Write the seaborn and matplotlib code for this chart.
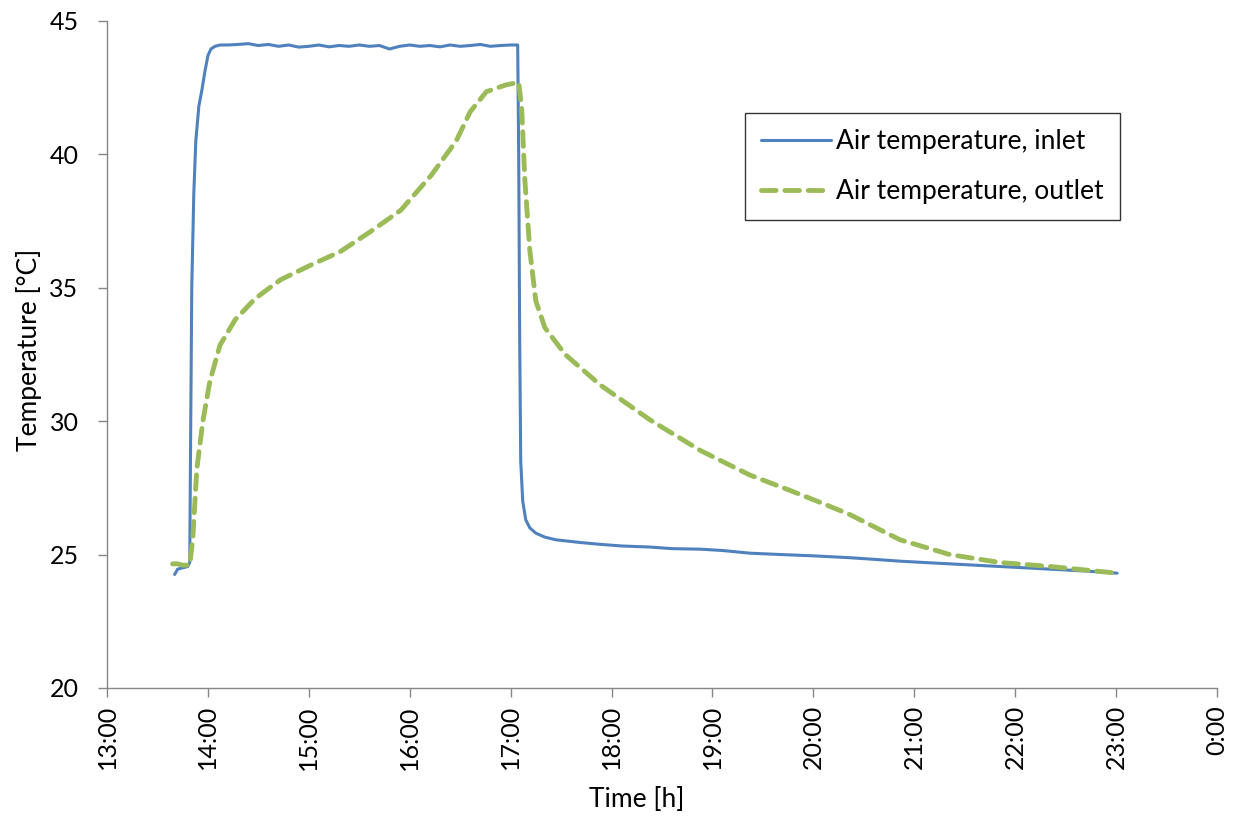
import matplotlib
matplotlib.use("Agg")
import matplotlib.pyplot as plt
import seaborn as sns

# time in hours (13.5 = 13:30), temperature in °C
inlet_time = [13.67, 13.70, 13.75, 13.80, 13.82, 13.83, 13.84, 13.86, 13.88, 13.91, 13.94,
              13.97, 14.00, 14.03, 14.07, 14.12, 14.20, 14.30, 14.40, 14.50, 14.60,
              14.70, 14.80, 14.90, 15.00, 15.10, 15.20, 15.30, 15.40, 15.50, 15.60,
              15.70, 15.80, 15.90, 16.00, 16.10, 16.20, 16.30, 16.40, 16.50, 16.60,
              16.70, 16.80, 16.90, 17.00, 17.07, 17.08, 17.09, 17.10, 17.12, 17.15,
              17.19, 17.25, 17.34, 17.45, 17.69, 17.89, 18.10, 18.38, 18.60, 18.88,
              19.10, 19.37, 19.67, 20.00, 20.36, 20.60, 20.86, 21.10, 21.35, 21.60,
              21.85, 22.10, 22.35, 22.70, 23.01]
inlet_temp = [24.25, 24.45, 24.5, 24.55, 24.7, 30.0, 35.0, 38.5, 40.5, 41.8, 42.4,
              43.1, 43.7, 43.95, 44.05, 44.1, 44.1, 44.12, 44.15, 44.08, 44.12,
              44.05, 44.1, 44.02, 44.05, 44.1, 44.03, 44.08, 44.05, 44.1, 44.05,
              44.08, 43.95, 44.05, 44.1, 44.05, 44.08, 44.03, 44.1, 44.05, 44.08,
              44.12, 44.05, 44.08, 44.1, 44.1, 40.0, 33.0, 28.5, 27.0, 26.3,
              26.0, 25.8, 25.65, 25.55, 25.45, 25.38, 25.32, 25.28, 25.22, 25.2,
              25.15, 25.05, 25.0, 24.95, 24.88, 24.82, 24.75, 24.7, 24.65, 24.6,
              24.55, 24.5, 24.45, 24.38, 24.3]

outlet_time = [13.65, 13.70, 13.75, 13.82, 13.85, 13.89, 13.95, 14.02, 14.12, 14.27,
               14.47, 14.72, 15.02, 15.31, 15.61, 15.91, 16.21, 16.46, 16.60, 16.76,
               16.95, 17.08, 17.11, 17.14, 17.19, 17.25, 17.34, 17.54, 17.89, 18.38,
               18.88, 19.37, 19.77, 20.07, 20.36, 20.86, 21.35, 21.85, 22.35, 23.01]
outlet_temp = [24.65, 24.65, 24.6, 24.6, 25.6, 28.2, 30.0, 31.5, 32.85, 33.8,
               34.6, 35.3, 35.85, 36.35, 37.1, 37.9, 39.2, 40.5, 41.6, 42.35,
               42.6, 42.7, 41.7, 39.1, 36.4, 34.5, 33.5, 32.5, 31.35, 30.05,
               28.9, 27.98, 27.4, 26.95, 26.5, 25.55, 25.0, 24.7, 24.55, 24.3]

hour_ticks = list(range(13, 25))
hour_labels = [f"{h % 24}:00" for h in hour_ticks]
temp_ticks = [20, 25, 30, 35, 40, 45]

sns.set_theme(style="white", rc={"text.color": "black", "axes.labelcolor": "black",
                                 "xtick.color": "black", "ytick.color": "black"})
plt.rcParams["font.family"] = ["Lato", "DejaVu Sans"]

fig = plt.figure(figsize=(12.37, 8.16), dpi=100)
ax = fig.add_axes([0.0865, 0.157, 0.8973, 0.8173])

sns.lineplot(x=inlet_time, y=inlet_temp, ax=ax, color="#4F81BD", linewidth=2.2,
             label="Air temperature, inlet", sort=False)
sns.lineplot(x=outlet_time, y=outlet_temp, ax=ax, color="#9BBB59", linewidth=3.5,
             linestyle=(0, (3, 1.8)), dash_capstyle="round",
             label="Air temperature, outlet", sort=False)

ax.set_xlim(13, 24)
ax.set_ylim(20, 45)
ax.set_xticks(hour_ticks)
ax.set_xticklabels(hour_labels, rotation=90, fontsize=18)
ax.set_yticks(temp_ticks)
ax.set_yticklabels([str(t) for t in temp_ticks], fontsize=18)
ax.set_xlabel("Time [h]", fontsize=19)
ax.set_ylabel("Temperature [°C]", fontsize=19)
ax.xaxis.set_label_coords(0.477, -0.148)
ax.yaxis.set_label_coords(-0.059, 0.507)

for side in ["top", "right"]:
    ax.spines[side].set_visible(False)
for side in ["left", "bottom"]:
    ax.spines[side].set_color("#868686")
    ax.spines[side].set_linewidth(1.0)
ax.tick_params(axis="both", direction="out", length=6.5, width=1, color="#868686",
               labelcolor="black", left=True, bottom=True)
ax.tick_params(axis="y", pad=14)
ax.tick_params(axis="x", pad=6)

leg = ax.legend(loc="upper left", bbox_to_anchor=(0.575, 0.862), fontsize=19,
                frameon=True, fancybox=False, handlelength=2.65, handletextpad=0.2,
                borderpad=0.6, labelspacing=0.95, borderaxespad=0)
leg.get_frame().set_edgecolor("black")
leg.get_frame().set_linewidth(1.0)

fig.savefig("out.png", dpi=100)
